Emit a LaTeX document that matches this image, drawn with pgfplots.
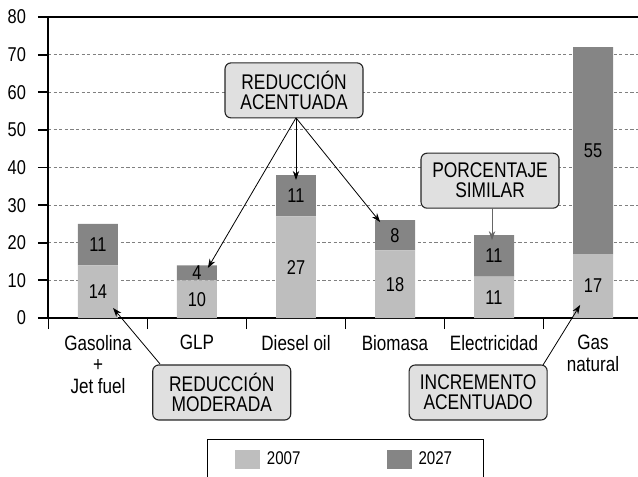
\documentclass[border=0pt]{standalone}
\usepackage{fontspec}
\setmainfont{Liberation Sans}[FakeStretch=0.82]
\setsansfont{Liberation Sans}[FakeStretch=0.82]
\usepackage{pgfplots}
\pgfplotsset{compat=1.18}
\usetikzlibrary{arrows.meta}
\definecolor{light}{HTML}{BEBEBE}
\definecolor{dark}{HTML}{858585}
\definecolor{callout}{HTML}{E0E0E0}
\pgfplotsset{common/.style={
  scale only axis, width=297.5pt, height=150.5pt,
  at={(0,0)}, anchor=south west,
  xmin=-0.505, xmax=5.505, ymin=0, ymax=80, clip=false}}
\begin{document}
\begin{tikzpicture}[font=\fontsize{10}{10.75}\selectfont,
  callout/.style={draw=black!85, line width=0.55pt, fill=callout, rounded corners=3pt,
    minimum width=69pt, minimum height=27.5pt, align=center, inner sep=1pt,
    font=\fontsize{10.6}{10}\selectfont},
  arr/.style={-{Stealth[length=4.5pt,width=3.2pt]}, line width=0.4pt}]
\begin{axis}[
  common,
  ybar stacked, bar width=0.404,
  axis line style={line width=0.9pt, black},
  xtick={0,1,2,3,4,5},
  xticklabels={{Gasolina\\+\\Jet fuel},GLP,Diesel oil,Biomasa,Electricidad,{Gas\\natural}},
  xticklabel style={align=center, yshift=0pt, font=\fontsize{10.4}{10.75}\selectfont},
  yticklabel style={xshift=-2.5pt},
  minor xtick={-0.5,0.5,1.5,2.5,3.5,4.5,5.5},
  xtick pos=left, ytick pos=left,
  tick align=outside,
  major x tick style={draw=none},
  minor tick length=5.5pt, major tick length=5pt,
  every tick/.style={black, line width=0.9pt},
  ytick={0,10,...,80},
  ymajorgrids,
  grid style={gray, line width=0.5pt, dash pattern=on 1.6pt off 1.2pt},
  /pgf/number format/assume math mode=true,
  legend columns=2,
  legend style={at={(axis description cs:0.5,-0.402)}, anchor=north, draw=black, line width=0.6pt,
    inner xsep=13.75pt, inner ysep=4pt, font=\fontsize{9.2}{10}\selectfont,
    /tikz/every odd column/.append style={column sep=1.5pt},
    /tikz/every even column/.append style={column sep=41pt}},
]
\addplot[fill=light, draw=none, legend image code/.code={\fill[light] (0pt,-4.75pt) rectangle (12.5pt,4.75pt);}]
  coordinates {(0,14) (1,10) (2,27) (3,18) (4,11) (5,17)};
\addlegendentry{2007}
\addplot[fill=dark, draw=none, legend image code/.code={\fill[dark] (0pt,-4.75pt) rectangle (12.5pt,4.75pt);}]
  coordinates {(0,11) (1,4) (2,11) (3,8) (4,11) (5,55)};
\addlegendentry{2027}
\end{axis}
\begin{axis}[common, hide axis]
% segment labels, at the middle of each segment
\addplot[draw=none, mark=none, nodes near coords, point meta=explicit symbolic,
  nodes near coords align={center}]
  coordinates {(0,7)[14] (0,19.5)[11] (1,5)[10] (1,12)[4] (2,13.5)[27] (2,32.5)[11]
               (3,9)[18] (3,22)[8] (4,5.5)[11] (4,16.5)[11] (5,8.5)[17] (5,44.5)[55]};
% callouts
\node[callout] at (axis cs:1.98,60.5) {REDUCCIÓN\\ACENTUADA};
\node[callout] at (axis cs:3.96,36.5) {PORCENTAJE\\SIMILAR};
\node[callout] at (axis cs:1.25,-19.8) {REDUCCIÓN\\MODERADA};
\node[callout] at (axis cs:3.84,-19.8) {INCREMENTO\\ACENTUADO};
\draw[arr] (axis cs:2.0,53.2) -- (axis cs:1.11,13.3);
\draw[arr] (axis cs:2.0,53.2) -- (axis cs:2.0,36.7);
\draw[arr] (axis cs:2.0,53.2) -- (axis cs:2.85,25.5);
\draw[arr, black!60] (axis cs:3.98,29.2) -- (axis cs:3.98,20.7);
\draw[arr] (axis cs:0.626,-12.2) -- (axis cs:0.152,2.66);
\draw[arr] (axis cs:4.495,-12.5) -- (axis cs:4.87,3.46);
\end{axis}
\pgfresetboundingbox
\path[use as bounding box] (-24pt,-79.5pt) rectangle (295pt,159pt);
\end{tikzpicture}
\end{document}
